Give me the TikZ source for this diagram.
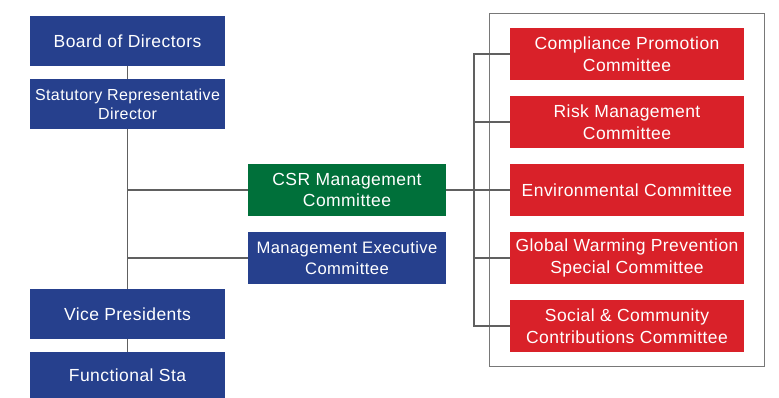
\documentclass[tikz,border=0pt]{standalone}
\usepackage{fontspec}
\setmainfont{Liberation Sans}[LetterSpace=2.5]
\usetikzlibrary{fit}
\definecolor{cblue}{RGB}{38,64,141}
\definecolor{cgreen}{RGB}{0,112,58}
\definecolor{cred}{RGB}{217,33,41}
\definecolor{cline}{RGB}{96,96,96}
\definecolor{cframe}{RGB}{120,120,120}
\tikzset{
  box/.style={inner sep=0pt, align=center, text=white, font=\fontsize{17.5}{21.5}\selectfont},
  bluebox/.style={box, fill=cblue, minimum width=195pt, minimum height=50pt},
  midbox/.style={box, minimum width=198pt, minimum height=52pt},
  redbox/.style={box, fill=cred, minimum width=234pt, minimum height=52pt},
  link/.style={draw=cline, line width=1.2pt},
}
\begin{document}
\begin{tikzpicture}[x=1pt,y=-1pt]
\useasboundingbox (0,0) rectangle (779,398);
% left column
\node[bluebox] (board) at (127.5,41) {Board of Directors};
\node[bluebox, font=\fontsize{16}{19}\selectfont] (stat) at (127.5,104) {Statutory Representative\\Director};
\node[bluebox] (vp) at (127.5,314) {Vice Presidents};
\node[bluebox, minimum height=46pt] (func) at (127.5,375) {Functional Sta};
% middle
\node[midbox, fill=cgreen] (csr) at (347,190) {CSR Management\\Committee};
\node[midbox, fill=cblue, font=\fontsize{16.6}{21}\selectfont] (mgmt) at (347,258) {Management Executive\\Committee};
% right
\node[redbox] (comp) at (627,54) {Compliance Promotion\\Committee};
\node[redbox] (risk) at (627,122) {Risk Management\\Committee};
\node[redbox] (env) at (627,190) {Environmental Committee};
\node[redbox] (glob) at (627,258) {Global Warming Prevention\\Special Committee};
\node[redbox] (soc) at (627,326) {Social \& Community\\Contributions Committee};
\node[draw=cframe, line width=1.2pt, inner xsep=20pt, inner ysep=14pt, fit=(comp)(soc)] (frame) {};
\coordinate (bx) at (474,0);
% connectors
\draw[link] (board) -- (stat);
\draw[link] (stat) -- (vp);
\draw[link] (vp) -- (func);
\draw[link] (stat.south |- csr.west) -- (csr.west);
\draw[link] (stat.south |- mgmt.west) -- (mgmt.west);
\draw[link] (csr.east) -- (env.west);
\draw[link] (comp.west) -- (bx |- comp.west) -- (bx |- soc.west) -- (soc.west);
\draw[link] (risk.west) -- (bx |- risk.west);
\draw[link] (glob.west) -- (bx |- glob.west);
\end{tikzpicture}
\end{document}
